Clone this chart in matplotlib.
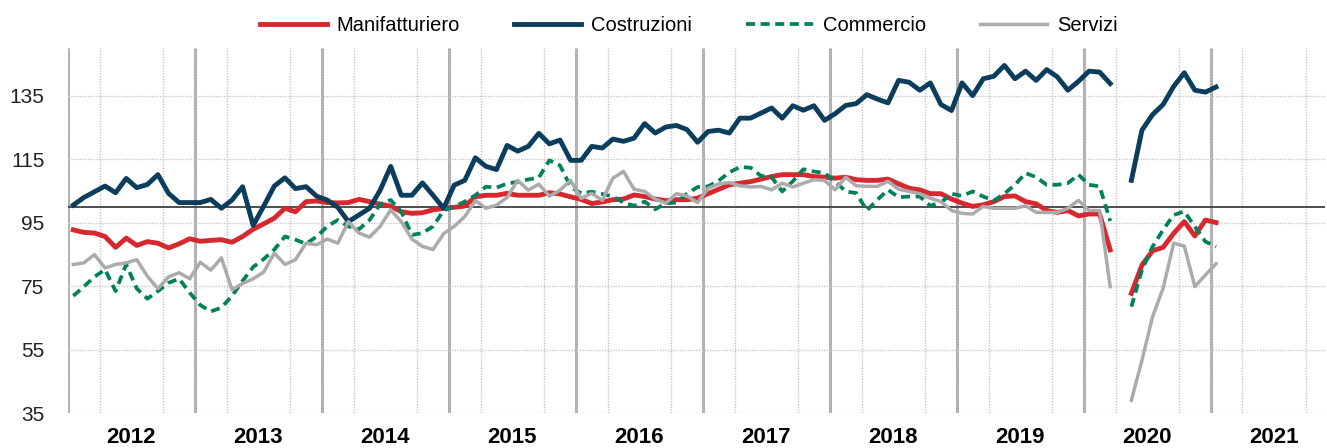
import numpy as np
import matplotlib
matplotlib.use("Agg")
import matplotlib.pyplot as plt

plt.rcParams['font.family'] = ['Liberation Sans', 'DejaVu Sans']

# monthly series, Jan 2012 .. Jan 2021 (April 2020 not collected)
years = ["2012", "2013", "2014", "2015", "2016", "2017", "2018", "2019", "2020", "2021"]
series_names = ["Manifatturiero", "Costruzioni", "Commercio", "Servizi"]

manifatturiero = [
    92.7, 91.9, 91.7, 90.6, 87.2, 90.1, 87.8, 89.0, 88.5, 87.0, 88.3, 89.9,
    89.1, 89.4, 89.6, 88.8, 90.6, 92.9, 94.6, 96.4, 99.5, 98.4, 101.6, 101.8,
    101.3, 101.2, 101.3, 102.3, 101.6, 100.8, 100.2, 98.4, 97.9, 98.1, 99.0, 99.5,
    99.8, 100.2, 103.1, 103.6, 103.6, 104.2, 103.6, 103.6, 103.6, 104.4, 104.0, 103.1,
    102.3, 101.0, 101.5, 102.2, 102.4, 103.7, 103.2, 102.4, 101.9, 102.2, 102.2, 102.7,
    104.1, 105.5, 106.9, 107.4, 107.9, 108.7, 109.5, 110.1, 110.1, 110.1, 109.5, 109.3,
    109.0, 109.3, 108.5, 108.3, 108.3, 108.7, 107.2, 105.8, 105.3, 104.1, 104.1, 102.4,
    101.1, 100.1, 100.6, 101.6, 103.2, 103.4, 101.6, 100.9, 98.8, 98.2, 98.8, 97.1,
    97.7, 97.7, 86.4, np.nan, 72.7, 81.6, 86.1, 87.2, 91.6, 95.3, 90.8, 95.8,
    95.0,
]
costruzioni = [
    100.5, 102.9, 104.7, 106.5, 104.4, 108.9, 106.0, 107.0, 110.1, 104.2, 101.3, 101.3,
    101.3, 102.3, 99.5, 102.1, 106.3, 94.1, 100.2, 106.5, 109.1, 105.7, 106.3, 103.3,
    102.1, 99.8, 95.3, 97.4, 99.5, 105.2, 112.7, 103.6, 103.6, 107.5, 103.6, 99.5,
    106.8, 108.3, 115.4, 112.7, 111.7, 119.3, 117.5, 119.0, 123.1, 119.8, 121.0, 114.6,
    114.6, 119.0, 118.5, 121.3, 120.6, 121.6, 126.2, 123.2, 125.1, 125.6, 124.3, 120.3,
    123.7, 124.1, 123.2, 127.9, 127.9, 129.5, 131.1, 127.9, 131.8, 130.4, 131.8, 127.2,
    129.3, 131.9, 132.5, 135.3, 133.9, 132.7, 139.8, 139.2, 136.7, 139.0, 132.2, 130.3,
    139.0, 135.0, 140.3, 141.1, 144.5, 140.3, 142.7, 139.8, 143.2, 140.9, 136.7, 139.5,
    142.7, 142.4, 138.8, np.nan, 108.3, 124.1, 129.0, 132.2, 137.9, 142.2, 136.7, 136.1,
    137.7,
]
commercio = [
    71.9, 74.8, 77.9, 80.2, 73.4, 81.8, 74.2, 71.0, 73.4, 76.0, 77.3, 72.9,
    69.0, 67.0, 68.2, 71.9, 76.6, 81.0, 83.5, 86.5, 90.6, 89.6, 88.3, 90.6,
    93.8, 95.8, 93.8, 92.9, 95.8, 100.8, 102.1, 98.4, 91.1, 91.7, 93.8, 98.8,
    100.0, 101.6, 103.6, 106.3, 106.0, 107.3, 107.8, 108.6, 109.2, 114.6, 113.0, 106.3,
    104.2, 104.7, 104.0, 103.2, 101.3, 100.3, 101.6, 99.2, 101.1, 101.3, 104.1, 106.2,
    106.4, 108.2, 110.8, 112.5, 112.3, 109.7, 109.3, 104.8, 108.0, 111.8, 111.1, 110.6,
    108.0, 104.8, 104.3, 98.8, 102.2, 105.3, 103.0, 103.2, 103.2, 100.3, 101.3, 104.1,
    103.4, 104.8, 103.2, 101.9, 104.1, 106.9, 110.6, 109.3, 106.9, 106.9, 107.4, 110.1,
    106.9, 106.4, 95.5, np.nan, 68.5, 80.1, 87.4, 92.7, 97.4, 98.5, 93.7, 89.0,
    87.4,
]
servizi = [
    81.8, 82.3, 84.9, 80.7, 81.8, 82.3, 83.3, 78.1, 74.2, 77.9, 79.2, 77.3,
    82.5, 80.0, 83.9, 73.8, 75.8, 77.3, 79.4, 85.4, 81.8, 83.3, 88.5, 88.0,
    89.8, 88.5, 95.3, 91.7, 90.4, 93.8, 99.0, 95.3, 89.8, 87.5, 86.5, 91.5,
    93.8, 96.9, 101.9, 99.5, 100.5, 102.9, 108.3, 105.2, 107.1, 103.3, 105.2, 108.3,
    102.6, 104.2, 102.0, 109.0, 111.1, 105.5, 104.8, 102.4, 101.1, 104.1, 103.4, 101.3,
    105.8, 107.2, 107.6, 106.6, 106.2, 106.4, 105.3, 107.4, 106.2, 107.4, 108.5, 108.3,
    105.3, 109.3, 106.6, 106.4, 106.4, 108.0, 105.5, 104.8, 104.1, 102.7, 101.6, 98.8,
    97.9, 97.7, 100.1, 99.5, 99.5, 99.5, 100.3, 98.2, 98.2, 98.2, 99.5, 102.0,
    98.8, 98.8, 74.8, np.nan, 39.0, 51.6, 65.3, 74.3, 88.5, 87.6, 74.8, 78.5,
    82.0,
]

colors = ["#d7282f", "#0b3d5c", "#00805c", "#ababab"]
styles = ["-", "-", (0, (2.4, 1.5)), "-"]
widths = [3.5, 3.5, 2.7, 2.5]


def main():
    fig = plt.figure(figsize=(13.27, 4.48), dpi=100)
    ax = fig.add_axes([68 / 1327, 1 - 413 / 448, 1257 / 1327, 365 / 448])

    x = np.arange(len(manifatturiero)) + 0.5
    order = [3, 2, 0, 1]
    data = [manifatturiero, costruzioni, commercio, servizi]
    handles = [None] * 4
    for k in order:
        ln, = ax.plot(x, data[k], color=colors[k], lw=widths[k], ls=styles[k],
                      label=series_names[k], zorder=3 + k)
        handles[k] = ln

    ax.axhline(100, color="#404040", lw=1.3, zorder=2)

    nyears = len(years)
    ax.set_xlim(0, 118.8)
    ax.set_ylim(35, 150)

    # quarter dotted grid, year solid separators
    ax.set_xticks(np.arange(0, 12 * nyears, 3), minor=True)
    ax.grid(True, which="minor", axis="x", color="#c4c4c4", lw=1.0, ls=(0, (1, 1)))
    ax.vlines(np.arange(0, 12 * nyears, 12), 35, 150, color="#a6a6a6", lw=2.0, zorder=1)

    ax.set_yticks(np.arange(35, 150, 20))
    ax.grid(True, which="major", axis="y", color="#c8c8c8", lw=1.0, ls=(0, (1, 1)))
    ax.set_xticks(np.arange(nyears) * 12 + 6, labels=years)
    ax.tick_params(axis="x", which="both", length=0, pad=10, labelsize=16)
    ax.tick_params(axis="y", length=0, pad=17, labelsize=15, labelcolor="#222222")
    for t in ax.get_xticklabels():
        t.set_fontweight("bold")

    for s in ax.spines.values():
        s.set_visible(False)

    fig.legend(handles=handles, loc="center", bbox_to_anchor=(0.519, 0.944), ncol=4,
               frameon=False, fontsize=14.5, handlelength=3.3, handletextpad=0.5,
               columnspacing=2.7)

    fig.savefig("out.png", dpi=100)


if __name__ == "__main__":
    main()
